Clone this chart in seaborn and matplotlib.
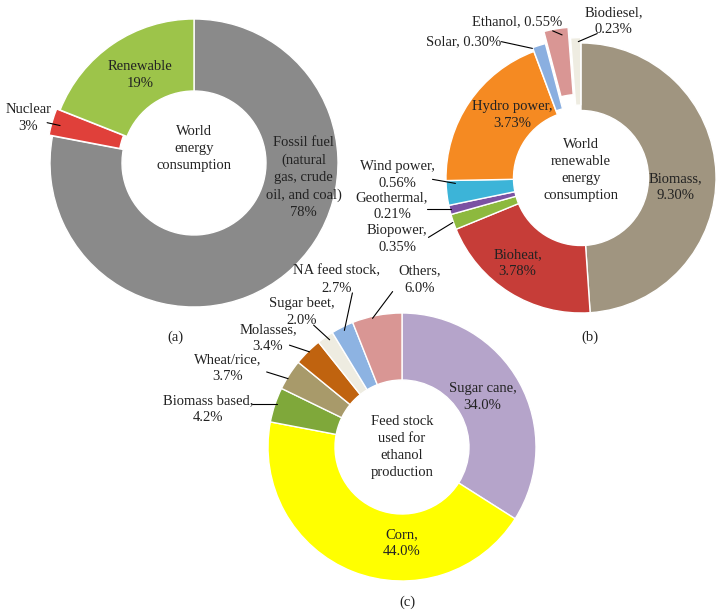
import matplotlib
matplotlib.use("Agg")
import matplotlib.pyplot as plt
import seaborn as sns

# (a) world energy consumption
a_labels = ["Fossil fuel\n(natural\ngas, crude\noil, and coal)\n78%", "Nuclear\n3%", "Renewable\n19%"]
a_values = [78, 3, 19]
a_colors = ["#8a8a8a", "#e0403a", "#9dc44a"]

# (b) world renewable energy consumption
b_labels = ["Biomass,\n9.30%", "Bioheat,\n3.78%", "Biopower,\n0.35%", "Geothermal,\n0.21%",
            "Wind power,\n0.56%", "Hydro power,\n3.73%", "Solar, 0.30%", "Ethanol, 0.55%",
            "Biodiesel,\n0.23%"]
b_values = [9.30, 3.78, 0.35, 0.21, 0.56, 3.73, 0.30, 0.55, 0.23]
b_colors = ["#a09580", "#c63d38", "#8db93e", "#7b52a3", "#3cb4d8", "#f58a22",
            "#8aafe0", "#d99694", "#eeece1"]

# (c) feed stock used for ethanol production
c_labels = ["Sugar cane,\n34.0%", "Corn,\n44.0%", "Biomass based,\n4.2%", "Wheat/rice,\n3.7%",
            "Molasses,\n3.4%", "Sugar beet,\n2.0%", "NA feed stock,\n2.7%", "Others,\n6.0%"]
c_values = [34.0, 44.0, 4.2, 3.7, 3.4, 2.0, 2.7, 6.0]
c_colors = ["#b5a4ca", "#ffff00", "#7fa83a", "#a89a6a", "#c0630f", "#eeece1", "#8db3e2", "#d99694"]

sns.set_theme(style="white")
plt.rcParams['font.family'] = ['Liberation Serif', 'DejaVu Serif']

W, H = 725, 616
fig = plt.figure(figsize=(W / 100, H / 100), dpi=100)


def make_ax(cx, cy, r, pad=1.8):
    ax = fig.add_axes([(cx - pad * r) / W, 1 - (cy + pad * r) / H, 2 * pad * r / W, 2 * pad * r / H])
    return ax, pad


def donut(cx, cy, r, values, colors, explode, labels, text_pos, lines, center_text, center_y):
    ax, pad = make_ax(cx, cy, r)
    ax.pie(values, colors=colors, explode=explode, startangle=90, counterclock=False,
           wedgeprops=dict(width=0.5, edgecolor="white", linewidth=1.0))
    ax.set_xlim(-pad, pad)
    ax.set_ylim(-pad, pad)
    ax.set_aspect("equal")
    ax.axis("off")
    for lab, pos, ln in zip(labels, text_pos, lines):
        ax.text(pos[0], pos[1], lab, ha="center", va="center", fontsize=10.5,
                linespacing=1.4, color="#222222")
        if ln is not None:
            ax.plot([ln[0][0], ln[1][0]], [ln[0][1], ln[1][1]], color="black", lw=0.8)
    ax.text(0, center_y, center_text, ha="center", va="center", fontsize=10.5,
            linespacing=1.4, color="#222222")
    return ax


donut(194, 163, 144, a_values, a_colors, [0, 0.025, 0], a_labels,
      [(0.76, -0.10), (-1.15, 0.31), (-0.375, 0.61)],
      [None, ((-1.02, 0.28), (-0.93, 0.26)), None],
      "World\nenergy\nconsumption", 0.10)

donut(581, 178, 135, b_values, b_colors, [0, 0, 0, 0, 0, 0, 0.03, 0.12, 0.04], b_labels,
      [(0.70, -0.07), (-0.47, -0.63), (-1.36, -0.45), (-1.40, -0.21), (-1.36, 0.02),
       (-0.51, 0.47), (-0.87, 1.01), (-0.47, 1.16), (0.24, 1.16)],
      [None, None, ((-1.13, -0.44), (-0.95, -0.33)), ((-1.14, -0.23), (-0.96, -0.23)),
       ((-1.10, -0.01), (-0.93, -0.04)), None, ((-0.59, 1.01), (-0.36, 0.96)),
       ((-0.21, 1.09), (-0.14, 1.06)), ((0.12, 1.07), (-0.02, 1.01))],
      "World\nrenewable\nenergy\nconsumption", 0.06)

donut(402, 447, 134, c_values, c_colors, [0] * 8, c_labels,
      [(0.60, 0.37), (0.0, -0.72), (-1.45, 0.28), (-1.30, 0.59), (-1.0, 0.81),
       (-0.75, 1.01), (-0.49, 1.25), (0.13, 1.25)],
      [None, None, ((-1.12, 0.32), (-0.93, 0.32)), ((-1.01, 0.56), (-0.85, 0.51)),
       ((-0.84, 0.76), (-0.69, 0.71)), ((-0.66, 0.91), (-0.54, 0.80)),
       ((-0.37, 1.15), (-0.43, 0.87)), ((-0.07, 1.16), (-0.22, 0.96))],
      "Feed stock\nused for\nethanol\nproduction", 0.0)

for txt, px, py in [("(a)", 175, 337), ("(b)", 590, 337), ("(c)", 407, 602)]:
    fig.text(px / W, 1 - py / H, txt, ha="center", va="center", fontsize=10.5, color="#222222")

fig.savefig("out.png", dpi=100, facecolor="white")
